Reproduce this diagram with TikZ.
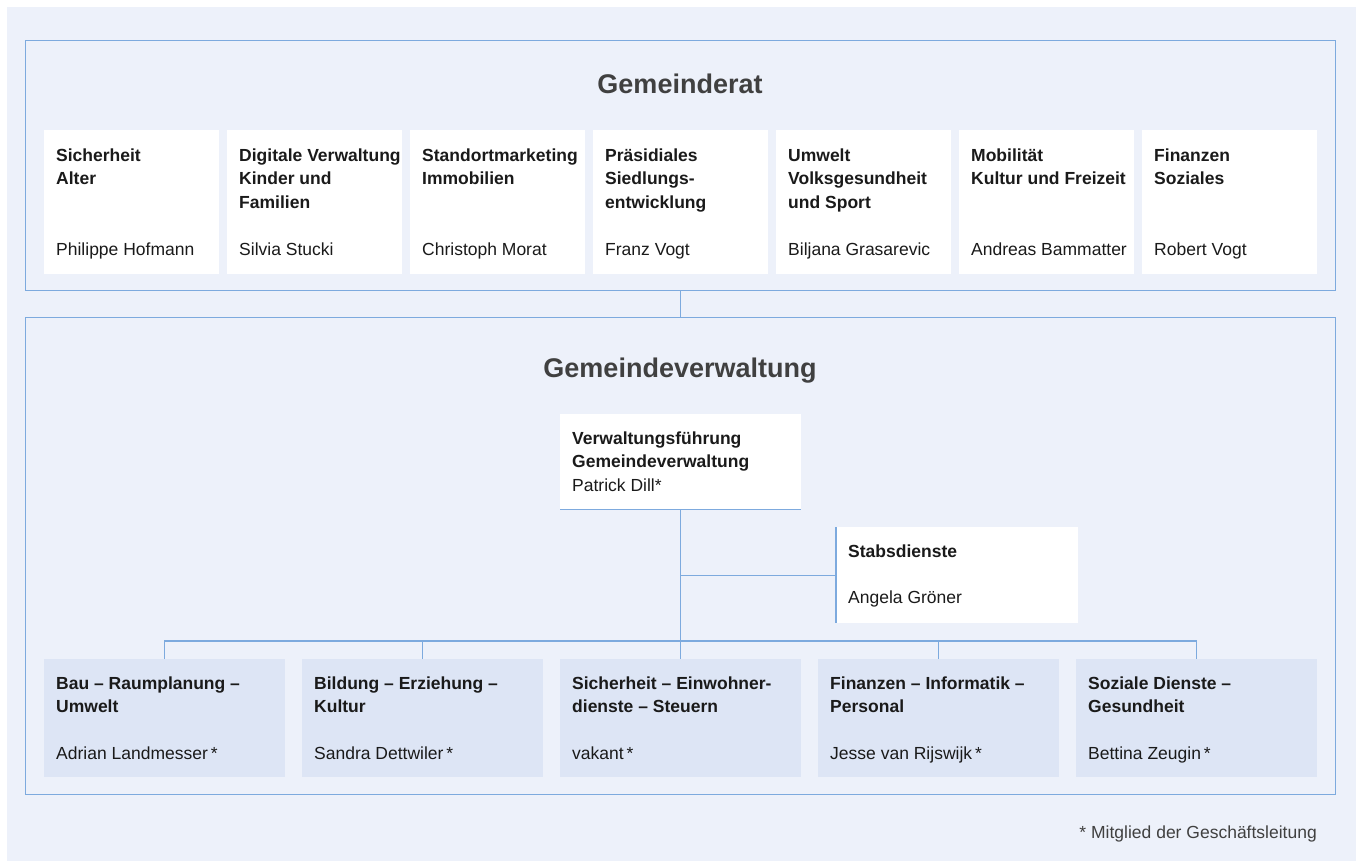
\documentclass[tikz,border=0pt]{standalone}
\usepackage{fontspec}
\setmainfont{Liberation Sans}
\definecolor{bgblue}{RGB}{237,241,250}
\definecolor{lineblue}{RGB}{125,170,222}
\definecolor{boxblue}{RGB}{221,229,245}
\definecolor{headgray}{RGB}{64,64,64}
\definecolor{textblack}{RGB}{26,26,26}

\begin{document}
\begin{tikzpicture}[x=1pt, y=-1pt,
        frame/.style={draw=lineblue, line width=1.3pt, anchor=north west, inner sep=0pt, minimum width=1310pt},
        ratbox/.style={fill=white, anchor=north west, inner sep=0pt, minimum width=175pt, minimum height=144pt},
        abtbox/.style={fill=boxblue, anchor=north west, inner sep=0pt, minimum width=241pt, minimum height=118pt},
        heading/.style={anchor=base, inner sep=0pt, text=headgray, font=\bfseries\fontsize{27}{32}\selectfont},
        ressort/.style={anchor=north west, align=left, inner sep=0pt, text=textblack, font=\bfseries\fontsize{17.5}{23.5}\selectfont},
        person/.style={anchor=base west, inner sep=0pt, text=textblack, font=\fontsize{17.5}{23.5}\selectfont},
        link/.style={draw=lineblue, line width=1.3pt}]

        \useasboundingbox (0,0) rectangle (1356,861);
        \fill[white] (0,0) rectangle (1356,861);
        \fill[bgblue] (7,7) rectangle (1356,861);

        % the two frames
        \node[frame, minimum height=250pt] (rat) at (25,40) {};
        \node[frame, minimum height=477pt] (verw) at (25,317) {};
        \draw[link] (rat.south) -- (verw.north);

        \node[heading] (ratlabel) at (680,94) {Gemeinderat};
        \node[heading] (verwlabel) at (680,377) {Gemeindeverwaltung};

        % Gemeinderat members
        \node[ratbox] (r1) at (44,130) {};
        \node[ressort] (r1t) at ([shift={(12,18.4)}]r1.north west) {Sicherheit\\Alter};
        \node[person] (r1n) at ([shift={(12,125)}]r1.north west) {Philippe Hofmann};

        \node[ratbox] (r2) at (227,130) {};
        \node[ressort] (r2t) at ([shift={(12,18.4)}]r2.north west) {Digitale Verwaltung\\Kinder und\\Familien};
        \node[person] (r2n) at ([shift={(12,125)}]r2.north west) {Silvia Stucki};

        \node[ratbox] (r3) at (410,130) {};
        \node[ressort] (r3t) at ([shift={(12,18.4)}]r3.north west) {Standortmarketing\\Immobilien};
        \node[person] (r3n) at ([shift={(12,125)}]r3.north west) {Christoph Morat};

        \node[ratbox] (r4) at (593,130) {};
        \node[ressort] (r4t) at ([shift={(12,18.4)}]r4.north west) {Präsidiales\\Siedlungs-\\entwicklung};
        \node[person] (r4n) at ([shift={(12,125)}]r4.north west) {Franz Vogt};

        \node[ratbox] (r5) at (776,130) {};
        \node[ressort] (r5t) at ([shift={(12,18.4)}]r5.north west) {Umwelt\\Volksgesundheit\\und Sport};
        \node[person] (r5n) at ([shift={(12,125)}]r5.north west) {Biljana Grasarevic};

        \node[ratbox] (r6) at (959,130) {};
        \node[ressort] (r6t) at ([shift={(12,18.4)}]r6.north west) {Mobilität\\Kultur und Freizeit};
        \node[person] (r6n) at ([shift={(12,125)}]r6.north west) {Andreas Bammatter};

        \node[ratbox] (r7) at (1142,130) {};
        \node[ressort] (r7t) at ([shift={(12,18.4)}]r7.north west) {Finanzen\\Soziales};
        \node[person] (r7n) at ([shift={(12,125)}]r7.north west) {Robert Vogt};

        % head of administration and staff
        \node[fill=white, anchor=north west, inner sep=0pt, minimum width=241pt, minimum height=95pt] (vf) at (560,414) {};
        \draw[link] (vf.south west) -- (vf.south east);
        \node[ressort] (vft) at ([shift={(12,17.4)}]vf.north west) {Verwaltungsführung\\Gemeindeverwaltung\\\mdseries Patrick Dill*};

        \node[fill=white, anchor=north west, inner sep=0pt, minimum width=242pt, minimum height=96pt] (stab) at (836,527) {};
        \draw[link] (stab.north west) -- (stab.south west);
        \node[person, font=\bfseries\fontsize{17.5}{23.5}\selectfont] (stabt) at ([shift={(12,30)}]stab.north west) {Stabsdienste};
        \node[person] (stabn) at ([shift={(12,76)}]stab.north west) {Angela Gröner};

        % departments
        \node[abtbox] (d1) at (44,659) {};
        \node[ressort] (d1t) at ([shift={(12,17.4)}]d1.north west) {Bau – Raumplanung –\\Umwelt};
        \node[person] (d1n) at ([shift={(12,100)}]d1.north west) {Adrian Landmesser\,*};

        \node[abtbox] (d2) at (302,659) {};
        \node[ressort] (d2t) at ([shift={(12,17.4)}]d2.north west) {Bildung – Erziehung –\\Kultur};
        \node[person] (d2n) at ([shift={(12,100)}]d2.north west) {Sandra Dettwiler\,*};

        \node[abtbox] (d3) at (560,659) {};
        \node[ressort] (d3t) at ([shift={(12,17.4)}]d3.north west) {Sicherheit – Einwohner-\\dienste – Steuern};
        \node[person] (d3n) at ([shift={(12,100)}]d3.north west) {vakant\,*};

        \node[abtbox] (d4) at (818,659) {};
        \node[ressort] (d4t) at ([shift={(12,17.4)}]d4.north west) {Finanzen – Informatik –\\Personal};
        \node[person] (d4n) at ([shift={(12,100)}]d4.north west) {Jesse van Rijswijk\,*};

        \node[abtbox] (d5) at (1076,659) {};
        \node[ressort] (d5t) at ([shift={(12,17.4)}]d5.north west) {Soziale Dienste –\\Gesundheit};
        \node[person] (d5n) at ([shift={(12,100)}]d5.north west) {Bettina Zeugin\,*};

        % connectors
        \coordinate (bus) at (680.5,641);
        \draw[link] (vf.south) -- (d3.north);
        \draw[link] (vf.south |- stab.west) -- (stab.west);
        \draw[link] (d1.north) |- (bus) -| (d5.north);
        \draw[link] (d2.north) -- (d2.north |- bus);
        \draw[link] (d4.north) -- (d4.north |- bus);

        \node[person, anchor=base east, text=headgray] (note) at (1317,838) {* Mitglied der Geschäftsleitung};
    \end{tikzpicture}
\end{document}
